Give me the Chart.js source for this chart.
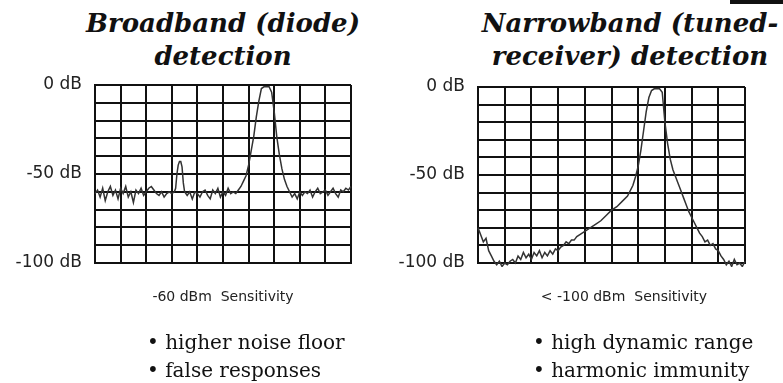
<!DOCTYPE html>
<html>
<head>
<meta charset="utf-8">
<script src="https://cdn.jsdelivr.net/npm/chart.js@4/dist/chart.umd.min.js"></script>
<style>
  body { margin: 0; width: 783px; height: 383px; position: relative; background: #fff; overflow: hidden; }
  .title { position: absolute; top: 7px; width: 380px; text-align: center; font-family: "DejaVu Serif", serif; font-weight: bold; font-style: italic; font-size: 26px; line-height: 33px; color: #111; }
  .sens { position: absolute; top: 288px; width: 300px; text-align: center; font-family: "DejaVu Sans", sans-serif; font-size: 14px; color: #222; white-space: pre; }
  .bullets { position: absolute; top: 328px; font-family: "DejaVu Serif", serif; font-size: 20px; line-height: 28px; color: #111; }
  canvas { position: absolute; top: 0; }
  #corner { position: absolute; left: 730px; top: 0; width: 53px; height: 4px; background: #111; }
</style>
</head>
<body>
<div class="title" style="left:33px">Broadband (diode)<br>detection</div>
<div class="title" style="left:440px">Narrowband (tuned-<br>receiver) detection</div>
<div id="corner"></div>
<canvas id="broadband" width="391" height="383" style="left:0"></canvas>
<canvas id="narrowband" width="392" height="383" style="left:391px"></canvas>
<div class="sens" style="left:73px">-60 dBm  Sensitivity</div>
<div class="sens" style="left:474px">&lt; -100 dBm  Sensitivity</div>
<div class="bullets" style="left:147px">• higher noise floor<br>• false responses</div>
<div class="bullets" style="left:533px">• high dynamic range<br>• harmonic immunity</div>
<script>
const tickValues = [0, -50, -100];
const tickLabels = ["0 dB", "-50 dB", "-100 dB"];

// broadband (diode) trace
const broadbandX = [
  0.0, 0.1, 0.2, 0.3, 0.4, 0.5, 0.6, 0.7, 0.8, 0.9,
  1.0, 1.1, 1.2, 1.3, 1.4, 1.5, 1.6, 1.7, 1.8, 1.9,
  2.0, 2.1, 2.2, 2.3, 2.4, 2.5, 2.6, 2.7, 2.8, 2.9,
  3.0, 3.1, 3.15, 3.2, 3.25, 3.3, 3.35, 3.4, 3.45, 3.5, 3.6, 3.7, 3.8, 3.9,
  4.0, 4.1, 4.2, 4.3, 4.4, 4.5, 4.6, 4.7, 4.8, 4.9,
  5.0, 5.1, 5.2, 5.3, 5.4, 5.5, 5.6, 5.7, 5.8, 5.9,
  6.0, 6.1, 6.2, 6.3, 6.4, 6.5, 6.6, 6.7, 6.8, 6.9,
  7.0, 7.1, 7.2, 7.3, 7.4, 7.5, 7.6, 7.7, 7.8, 7.9,
  8.0, 8.1, 8.2, 8.3, 8.4, 8.5, 8.6, 8.7, 8.8, 8.9,
  9.0, 9.1, 9.2, 9.3, 9.4, 9.5, 9.6, 9.7, 9.8, 9.9, 10.0
];
const broadbandDb = [
  -61, -59, -63, -58, -65, -60, -57, -62, -59, -64,
  -58, -61, -57, -63, -60, -66, -59, -61, -58, -62,
  -60, -58, -57, -59, -61, -62, -60, -63, -61, -60,
  -61, -60, -58, -50, -45, -43, -43, -46, -55, -60, -62, -60, -64, -60,
  -61, -63, -60, -59, -62, -64, -59, -61, -58, -63,
  -60, -62, -58, -61, -60, -61, -59, -57, -54, -51,
  -45, -37, -29, -18, -9, -2, -1, -1, -1, -4,
  -15, -29, -39, -47, -53, -57, -60, -63, -61, -64,
  -60, -62, -60, -61, -59, -63, -60, -58, -61, -60,
  -59, -62, -60, -58, -61, -63, -59, -60, -58, -59, -57
];

// narrowband (tuned receiver) trace
const narrowbandX = [
  0.0, 0.1, 0.2, 0.3, 0.4, 0.5, 0.6, 0.7, 0.8, 0.9,
  1.0, 1.1, 1.2, 1.3, 1.4, 1.5, 1.6, 1.7, 1.8, 1.9,
  2.0, 2.1, 2.2, 2.3, 2.4, 2.5, 2.6, 2.7, 2.8, 2.9,
  3.0, 3.1, 3.2, 3.3, 3.4, 3.5, 3.6, 3.7, 3.8,
  4.0, 4.2, 4.4, 4.6, 4.8, 5.0, 5.2, 5.4, 5.6, 5.8, 5.9,
  6.0, 6.1, 6.2, 6.3, 6.4, 6.5, 6.6, 6.7, 6.8, 6.9,
  7.0, 7.1, 7.2, 7.3, 7.4, 7.5, 7.6, 7.7, 7.8, 7.9,
  8.0, 8.1, 8.2, 8.3, 8.4, 8.5, 8.6, 8.7, 8.8, 8.9,
  9.0, 9.1, 9.2, 9.3, 9.4, 9.5, 9.6, 9.7, 9.8, 9.9, 10.0
];
const narrowbandDb = [
  -80, -84, -88, -86, -93, -96, -99, -101, -99, -102,
  -100, -101, -99, -98, -100, -96, -98, -94, -97, -95,
  -98, -94, -96, -93, -97, -94, -96, -93, -95, -92,
  -93, -91, -90, -88, -89, -87, -87, -85, -84,
  -82, -80, -78, -76, -73, -70, -68, -65, -62, -56, -51,
  -45, -36, -25, -14, -6, -2, -1, -1, -1, -3,
  -20, -32, -41, -47, -51, -55, -59, -63, -67, -71,
  -74, -77, -80, -83, -85, -88, -87, -90, -89, -92,
  -93, -96, -98, -101, -99, -102, -98, -101, -100, -102, -99
];

function makeChart(id, xs, ys, axisWidth, pad) {
  return new Chart(document.getElementById(id), {
    type: "line",
    data: {
      datasets: [{
        data: xs.map((x, i) => ({ x: x, y: ys[i] })),
        borderColor: "#333",
        borderWidth: 1.5,
        pointRadius: 0,
        tension: 0,
        clip: 4
      }]
    },
    options: {
      responsive: false,
      animation: false,
      layout: { padding: pad },
      plugins: { legend: { display: false }, tooltip: { enabled: false } },
      scales: {
        x: {
          type: "linear",
          min: 0,
          max: 10,
          afterFit: (s) => { s.height = 0; },
          ticks: { display: false, stepSize: 1 },
          grid: { color: "#111", lineWidth: 2, drawTicks: false },
          border: { color: "#111", width: 2 }
        },
        y: {
          min: -100,
          max: 0,
          afterFit: (s) => { s.width = axisWidth; },
          ticks: {
            stepSize: 10,
            autoSkip: false,
            padding: 13,
            color: "#222",
            font: { family: "DejaVu Sans", size: 17 },
            callback: (value) => {
              const k = tickValues.indexOf(value);
              return k >= 0 ? tickLabels[k] : "";
            }
          },
          grid: { color: "#111", lineWidth: 2, drawTicks: false },
          border: { color: "#111", width: 2 }
        }
      }
    }
  });
}

makeChart("broadband", broadbandX, broadbandDb, 95, { top: 85, right: 40, bottom: 120, left: 0 });
makeChart("narrowband", narrowbandX, narrowbandDb, 87, { top: 87, right: 38, bottom: 120, left: 0 });
</script>
</body>
</html>
